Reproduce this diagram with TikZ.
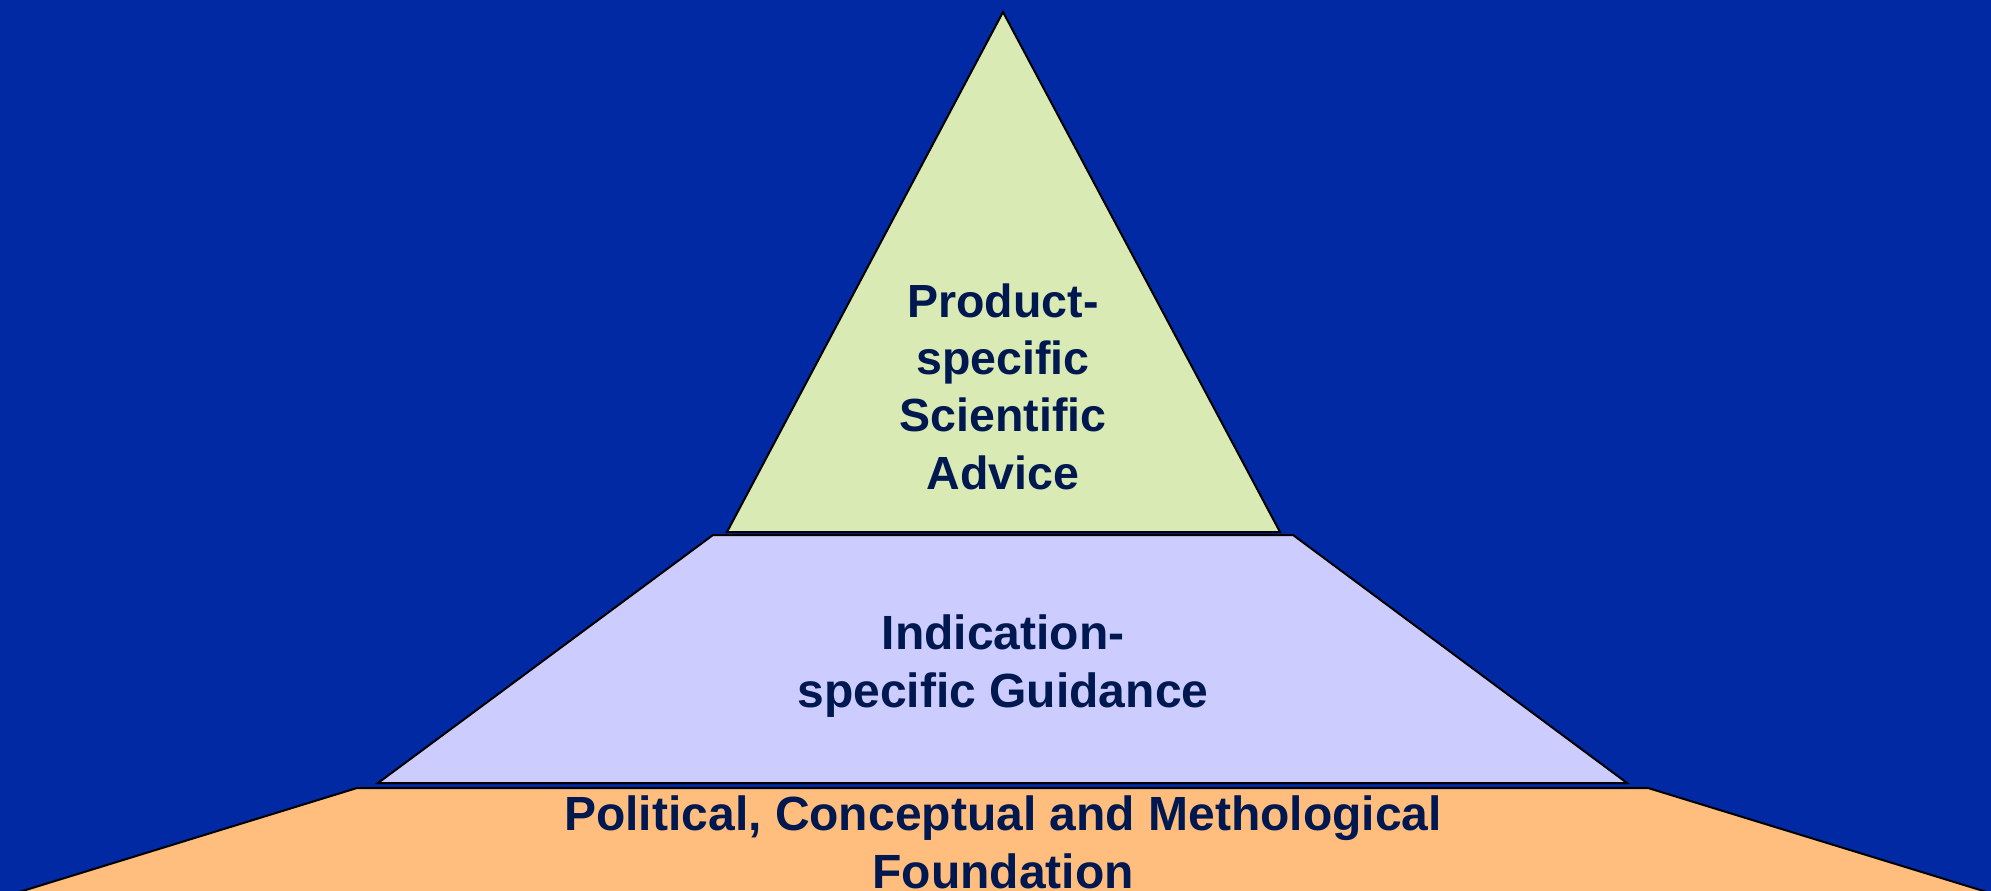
\documentclass[tikz,border=0pt]{standalone}
\usepackage{fontspec}
\setmainfont{Liberation Sans}
\definecolor{bgblue}{RGB}{0,41,163}
\definecolor{apexgreen}{RGB}{217,234,181}
\definecolor{midlilac}{RGB}{204,204,255}
\definecolor{baseorange}{RGB}{255,190,125}
\definecolor{inknavy}{RGB}{0,24,80}
\begin{document}
\begin{tikzpicture}[x=1pt,y=-1pt,
  layer/.style={draw=black,line width=2pt,line join=miter},
  label/.style={text=inknavy,font=\fontsize{48}{57.5}\selectfont\bfseries,
                align=center,inner sep=0pt,anchor=base}]
  % backdrop and page size
  \fill[bgblue] (0,0) rectangle (1991,891);
  \useasboundingbox (0,0) rectangle (1991,891);
  % foundation layer (runs off the bottom edge)
  \coordinate (fA) at (357,788);
  \coordinate (fB) at (1648,788);
  \coordinate (fC) at (1990,893);
  \coordinate (fD) at (16,893);
  \filldraw[layer,fill=baseorange] (fA) -- (fB) -- (fC) -- (fD) -- cycle;
  % middle trapezoid
  \coordinate (mA) at (713,535);
  \coordinate (mB) at (1293,535);
  \coordinate (mC) at (1627,783);
  \coordinate (mD) at (378,783);
  \filldraw[layer,fill=midlilac] (mA) -- (mB) -- (mC) -- (mD) -- cycle;
  % apex triangle
  \coordinate (tA) at (1003,12);
  \coordinate (tB) at (1280,532);
  \coordinate (tC) at (727,532);
  \filldraw[layer,fill=apexgreen] (tA) -- (tB) -- (tC) -- cycle;
  % labels (anchored on the baseline of their last line)
  \node[label,font=\fontsize{46.5}{57.3}\selectfont\bfseries] (apex) at (1003,489)
    {Product-\\specific\\Scientific\\Advice};
  \node[label] (mid) at (1003,707) {Indication-\\specific Guidance};
  \node[label] (base) at (1003,888) {Political, Conceptual and Methological\\Foundation};
\end{tikzpicture}
\end{document}
